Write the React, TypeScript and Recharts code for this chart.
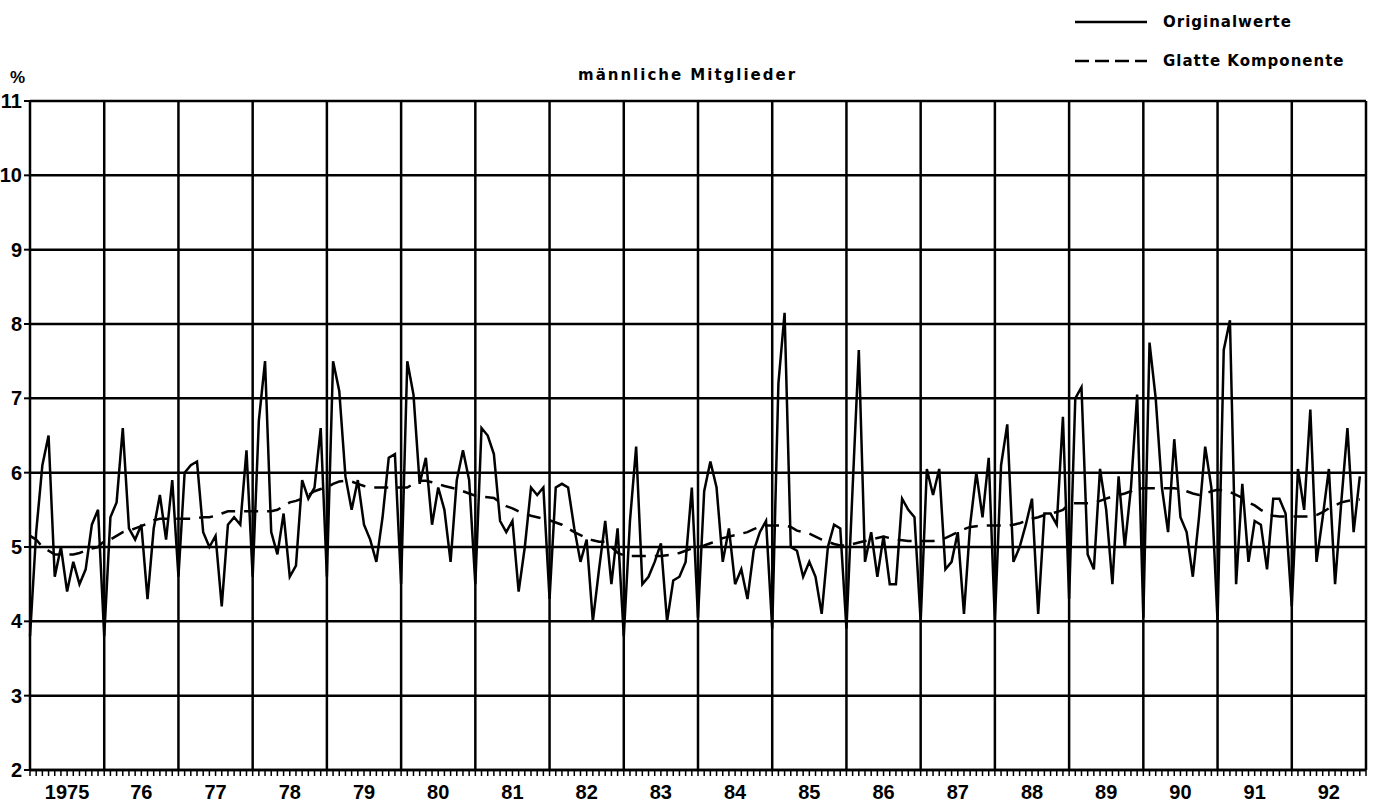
import {
  LineChart,
  Line,
  XAxis,
  YAxis,
  CartesianGrid,
  ReferenceLine,
} from "recharts";

// one label per year, placed in the middle of the year
const yearLabels = [
  "1975", "76", "77", "78", "79", "80", "81", "82", "83",
  "84", "85", "86", "87", "88", "89", "90", "91", "92",
];

// Originalwerte, Jan..Dec per year (%)
const originalByYear = [
  [3.8, 5.2, 6.1, 6.5, 4.6, 5.0, 4.4, 4.8, 4.5, 4.7, 5.3, 5.5],
  [3.8, 5.4, 5.6, 6.6, 5.25, 5.1, 5.3, 4.3, 5.25, 5.7, 5.1, 5.9],
  [4.6, 6.0, 6.1, 6.15, 5.2, 5.0, 5.15, 4.2, 5.3, 5.4, 5.3, 6.3],
  [4.6, 6.7, 7.5, 5.2, 4.9, 5.45, 4.6, 4.75, 5.9, 5.65, 5.8, 6.6],
  [4.6, 7.5, 7.1, 5.95, 5.5, 5.9, 5.3, 5.1, 4.8, 5.4, 6.2, 6.25],
  [4.5, 7.5, 7.05, 5.85, 6.2, 5.3, 5.8, 5.5, 4.8, 5.9, 6.3, 5.9],
  [4.5, 6.6, 6.5, 6.25, 5.35, 5.2, 5.35, 4.4, 5.0, 5.8, 5.7, 5.8],
  [4.3, 5.8, 5.85, 5.8, 5.25, 4.8, 5.1, 4.0, 4.7, 5.35, 4.5, 5.25],
  [3.8, 5.35, 6.35, 4.5, 4.6, 4.8, 5.05, 4.0, 4.55, 4.6, 4.8, 5.8],
  [4.05, 5.75, 6.15, 5.8, 4.8, 5.25, 4.5, 4.7, 4.3, 4.95, 5.2, 5.35],
  [3.9, 7.2, 8.15, 5.0, 4.95, 4.6, 4.8, 4.6, 4.1, 5.0, 5.3, 5.25],
  [3.9, 5.8, 7.65, 4.8, 5.2, 4.6, 5.15, 4.5, 4.5, 5.65, 5.5, 5.4],
  [4.0, 6.05, 5.7, 6.05, 4.7, 4.8, 5.2, 4.1, 5.3, 6.0, 5.4, 6.2],
  [4.0, 6.1, 6.65, 4.8, 5.0, 5.3, 5.65, 4.1, 5.45, 5.45, 5.3, 6.75],
  [4.3, 7.0, 7.15, 4.9, 4.7, 6.05, 5.5, 4.5, 5.95, 5.0, 5.8, 7.05],
  [4.05, 7.75, 7.0, 5.8, 5.2, 6.45, 5.4, 5.2, 4.6, 5.4, 6.35, 5.8],
  [4.0, 7.65, 8.05, 4.5, 5.85, 4.8, 5.35, 5.3, 4.7, 5.65, 5.65, 5.45],
  [4.2, 6.05, 5.5, 6.85, 4.8, 5.4, 6.05, 4.5, 5.6, 6.6, 5.2, 5.95],
];

// Glatte Komponente, Jan..Dec per year (%)
const smoothByYear = [
  [5.15, 5.1, 5.0, 4.95, 4.9, 4.9, 4.9, 4.9, 4.92, 4.95, 4.98, 5.0],
  [5.08, 5.1, 5.15, 5.2, 5.22, 5.25, 5.28, 5.32, 5.36, 5.38, 5.38, 5.38],
  [5.38, 5.38, 5.38, 5.39, 5.4, 5.4, 5.42, 5.45, 5.48, 5.48, 5.48, 5.48],
  [5.48, 5.48, 5.48, 5.48, 5.5, 5.55, 5.6, 5.62, 5.65, 5.7, 5.75, 5.78],
  [5.8, 5.85, 5.88, 5.89, 5.88, 5.85, 5.82, 5.8, 5.8, 5.8, 5.8, 5.8],
  [5.8, 5.8, 5.85, 5.89, 5.89, 5.87, 5.85, 5.82, 5.8, 5.78, 5.75, 5.72],
  [5.69, 5.68, 5.67, 5.66, 5.6, 5.55, 5.52, 5.48, 5.45, 5.42, 5.4, 5.38],
  [5.36, 5.33, 5.3, 5.25, 5.2, 5.16, 5.12, 5.09, 5.07, 5.07, 5.0, 4.92],
  [4.89, 4.88, 4.88, 4.88, 4.88, 4.88, 4.88, 4.89, 4.9, 4.92, 4.95, 4.98],
  [5.0, 5.02, 5.05, 5.08, 5.12, 5.14, 5.16, 5.18, 5.2, 5.24, 5.27, 5.29],
  [5.29, 5.29, 5.29, 5.27, 5.22, 5.2, 5.18, 5.14, 5.1, 5.07, 5.04, 5.02],
  [5.02, 5.04, 5.06, 5.08, 5.1, 5.12, 5.14, 5.12, 5.1, 5.09, 5.08, 5.08],
  [5.08, 5.08, 5.08, 5.1, 5.12, 5.16, 5.2, 5.24, 5.27, 5.28, 5.29, 5.29],
  [5.29, 5.29, 5.29, 5.3, 5.32, 5.35, 5.38, 5.4, 5.43, 5.45, 5.47, 5.5],
  [5.58, 5.59, 5.59, 5.59, 5.6, 5.62, 5.65, 5.68, 5.7, 5.72, 5.75, 5.78],
  [5.79, 5.79, 5.79, 5.79, 5.79, 5.79, 5.78, 5.75, 5.72, 5.7, 5.72, 5.75],
  [5.77, 5.76, 5.74, 5.7, 5.66, 5.6, 5.56, 5.5, 5.45, 5.42, 5.41, 5.41],
  [5.41, 5.41, 5.41, 5.41, 5.43, 5.47, 5.52, 5.56, 5.6, 5.62, 5.63, 5.64],
];

const yTicks = [2, 3, 4, 5, 6, 7, 8, 9, 10, 11];

const data = originalByYear.flatMap((row, y) =>
  row.map((v, m) => ({ t: y * 12 + m, orig: v, smooth: smoothByYear[y][m] }))
);

const monthTicks = Array.from({ length: 217 }, (_, i) => i);
const yearBounds = Array.from({ length: 18 }, (_, i) => (i + 1) * 12);

const numFont = "'Liberation Sans', Arial, sans-serif";
const textFont = "'DejaVu Sans', sans-serif";

function YearTick(props: any) {
  const { x, y, payload } = props;
  const v = payload.value;
  if (v % 12 !== 6) return <g />;
  return (
    <text
      x={x}
      y={y}
      dy={20}
      textAnchor="middle"
      fontFamily={numFont}
      fontWeight="bold"
      fontSize={20}
      fill="#000"
    >
      {yearLabels[(v - 6) / 12]}
    </text>
  );
}

function LegendRow({ top, dashed, label }: { top: number; dashed?: boolean; label: string }) {
  return (
    <div style={{ position: "absolute", left: 1075, top, height: 20, display: "flex", alignItems: "center" }}>
      <svg width={72} height={6}>
        <line x1={0} y1={3} x2={72} y2={3} stroke="#000" strokeWidth={2.5} strokeDasharray={dashed ? "14 6" : undefined} />
      </svg>
      <span style={{ marginLeft: 16, fontFamily: textFont, fontWeight: "bold", fontSize: 15, letterSpacing: 1 }}>
        {label}
      </span>
    </div>
  );
}

export default function App() {
  return (
    <div style={{ position: "absolute", left: 0, top: 0, width: 1376, height: 807, background: "#fff" }}>
      <LineChart width={1376} height={807} data={data} margin={{ top: 101, right: 10, bottom: 0, left: 0 }}>
        <CartesianGrid vertical={false} stroke="#000" strokeWidth={2.5} />
        <XAxis
          dataKey="t"
          type="number"
          domain={[0, 216]}
          ticks={monthTicks}
          interval={0}
          height={37}
          tick={<YearTick />}
          tickSize={6}
          tickMargin={3}
          tickLine={{ stroke: "#000", strokeWidth: 1.5 }}
          axisLine={{ stroke: "#000", strokeWidth: 2.5 }}
        />
        <YAxis
          type="number"
          domain={[2, 11]}
          ticks={yTicks}
          interval={0}
          width={30}
          tickSize={6}
          tickMargin={2}
          tickLine={{ stroke: "#000", strokeWidth: 2 }}
          axisLine={{ stroke: "#000", strokeWidth: 2.5 }}
          tick={{ fill: "#000", fontFamily: numFont, fontWeight: "bold", fontSize: 20 }}
        />
        {yearBounds.map((b) => (
          <ReferenceLine key={b} x={b} stroke="#000" strokeWidth={2.5} />
        ))}
        <Line
          type="linear"
          dataKey="smooth"
          stroke="#000"
          strokeWidth={2.5}
          strokeDasharray="14 9"
          dot={false}
          isAnimationActive={false}
        />
        <Line
          type="linear"
          dataKey="orig"
          stroke="#000"
          strokeWidth={2.5}
          dot={false}
          isAnimationActive={false}
        />
      </LineChart>
      <div style={{ position: "absolute", left: 10, top: 68, fontFamily: numFont, fontWeight: "bold", fontSize: 17 }}>%</div>
      <div
        style={{
          position: "absolute",
          left: 578,
          top: 66,
          fontFamily: textFont,
          fontWeight: "bold",
          fontSize: 15,
          letterSpacing: 2,
        }}
      >
        männliche Mitglieder
      </div>
      <LegendRow top={12} label="Originalwerte" />
      <LegendRow top={51} dashed label="Glatte Komponente" />
    </div>
  );
}
